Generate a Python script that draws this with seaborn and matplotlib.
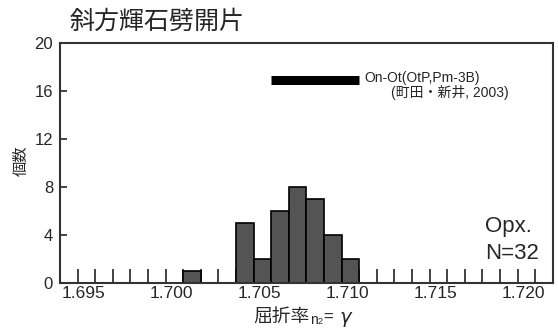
import numpy as np
import pandas as pd
import matplotlib
matplotlib.use("Agg")
import matplotlib.pyplot as plt
import matplotlib.transforms as mtransforms
import seaborn as sns

# bin left edges (refractive index) and counts
bin_left = [1.701, 1.704, 1.705, 1.706, 1.707, 1.708, 1.709, 1.710]
counts = [1, 5, 2, 6, 8, 7, 4, 2]
x_ticks = [1.695, 1.700, 1.705, 1.710, 1.715, 1.720]
y_ticks = [0, 4, 8, 12, 16, 20]
ref_range = [1.706, 1.711]
ref_level = 16.9

sns.set_style("white")
plt.rcParams["font.family"] = ["Liberation Sans", "Noto Sans CJK JP", "DejaVu Sans"]

df = pd.DataFrame({"n": np.array(bin_left) + 0.0005, "count": counts})

fig = plt.figure(figsize=(5.58, 3.31), dpi=100)
ax = fig.add_axes([0.1075, 0.145, 0.883, 0.725])
sns.histplot(data=df, x="n", weights="count", binwidth=0.001,
             binrange=(1.694, 1.722), ax=ax,
             color="#545454", edgecolor="black", linewidth=1.2, alpha=1)

ax.set_xlim(1.694, 1.722)
ax.set_ylim(0, 20)
ax.set_xticks(x_ticks)
ax.set_xticklabels([f"{v:.3f}" for v in x_ticks], fontsize=12.5)
ax.set_xticks(np.round(np.arange(1.695, 1.7215, 0.001), 3), minor=True)
ax.tick_params(axis="x", which="both", bottom=True, direction="in", length=10,
               width=1.2, color="#222222", pad=2)
ax.set_yticks(y_ticks)
ax.set_yticklabels([str(v) for v in y_ticks], fontsize=12)
ax.tick_params(axis="y", left=True, direction="in", length=5, width=1.2,
               color="#222222", pad=5)
shift = mtransforms.ScaledTranslation(6 / 100, 0, fig.dpi_scale_trans)
for lab in ax.get_xticklabels():
    lab.set_transform(lab.get_transform() + shift)
for s in ax.spines.values():
    s.set_color("#333333")
    s.set_linewidth(1.5)

ax.set_xlabel("")
ax.set_ylabel("")
fig.text(0.039, 0.513, "個数", rotation=90, ha="center", va="center", fontsize=11)
fig.text(0.554, 0.042, "屈折率", ha="right", va="center", fontsize=13.5)
fig.text(0.555, 0.034, "n", ha="left", va="center", fontsize=10)
fig.text(0.569, 0.030, "2", ha="left", va="center", fontsize=6.5)
fig.text(0.580, 0.040, "=", ha="left", va="center", fontsize=12)
fig.text(0.607, 0.036, r"$\gamma$", ha="left", va="center", fontsize=14)

ax.plot(ref_range, [ref_level, ref_level], color="black", linewidth=6.5,
        solid_capstyle="butt")
ax.text(1.7113, 17.1, "On-Ot(OtP,Pm-3B)", fontsize=10, ha="left", va="center")
ax.text(1.7195, 15.9, "(町田・新井, 2003)", fontsize=10, ha="right", va="center")
ax.text(1.71815, 4.67, "Opx.", fontsize=16, ha="left", va="center")
ax.text(1.71815, 2.5, "N=32", fontsize=16, ha="left", va="center")

fig.text(0.125, 0.935, "斜方輝石劈開片", fontsize=18, ha="left", va="center")

fig.savefig("out.png", dpi=100)
